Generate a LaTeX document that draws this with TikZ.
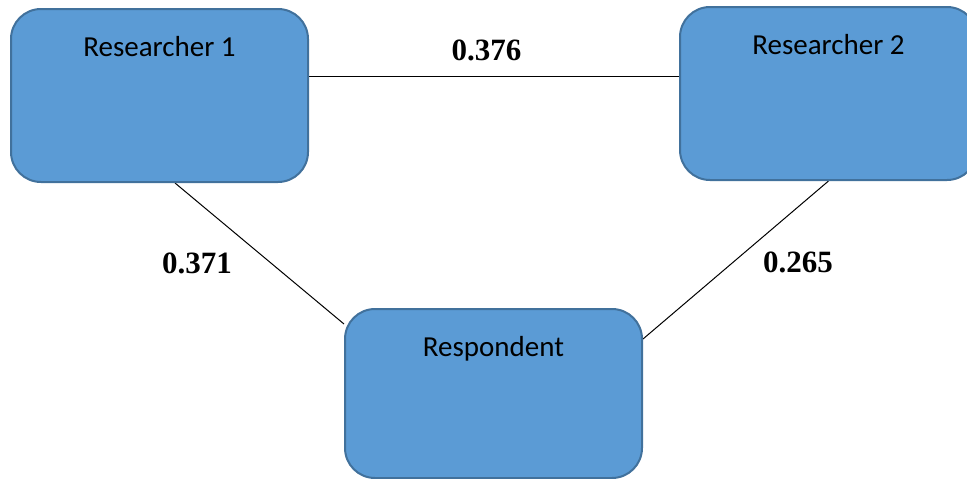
\documentclass[tikz,border=0pt]{standalone}
\usepackage{fontspec}
\setmainfont{Liberation Serif}
\newfontfamily\boxfont{Carlito}
\usetikzlibrary{backgrounds}
\definecolor{boxfill}{RGB}{91,155,213}
\definecolor{boxedge}{RGB}{65,113,156}

\begin{document}
\begin{tikzpicture}[x=1pt, y=-1pt,
  party/.style={rectangle, rounded corners=30pt, draw=boxedge, fill=boxfill,
    line width=2pt, minimum width=297pt, minimum height=173pt},
  tag/.style={anchor=base, label distance=-48pt,
    font=\boxfont\fontsize{29}{34}\selectfont},
  score/.style={anchor=base, font=\bfseries\fontsize{31}{36}\selectfont},
  link/.style={line width=1pt, black},
]
  \useasboundingbox (0,0) rectangle (967,479);
  \clip (0,0) rectangle (967,479);

  % Boxes
  \node[party, label={[tag]north:Researcher 1}] (R1) at (159.5,95.5) {};
  \node[party, label={[tag]north:Researcher 2}] (R2) at (828.5,93.5) {};
  \node[party, minimum height=169pt,
    label={[tag]north:Respondent}] (Resp) at (493.5,393.5) {};

  % Links
  \begin{scope}[on background layer]
    \fill[white] (0,0) rectangle (967,479);
    \draw[link] ([yshift=19.5pt]R1.east) -- ([yshift=19.5pt]R1.east -| R2.west);
    \draw[link] ([xshift=15.5pt]R1.south) -- ([yshift=69.5pt]Resp.west);
    \draw[link] (R2.south) -- ([yshift=54.5pt]Resp.east);
  \end{scope}

  % Agreement values
  \node[score] (s12) at (486.5,60) {0.376};
  \node[score] (s1r) at (197,273) {0.371};
  \node[score] (s2r) at (798,272) {0.265};
\end{tikzpicture}
\end{document}
